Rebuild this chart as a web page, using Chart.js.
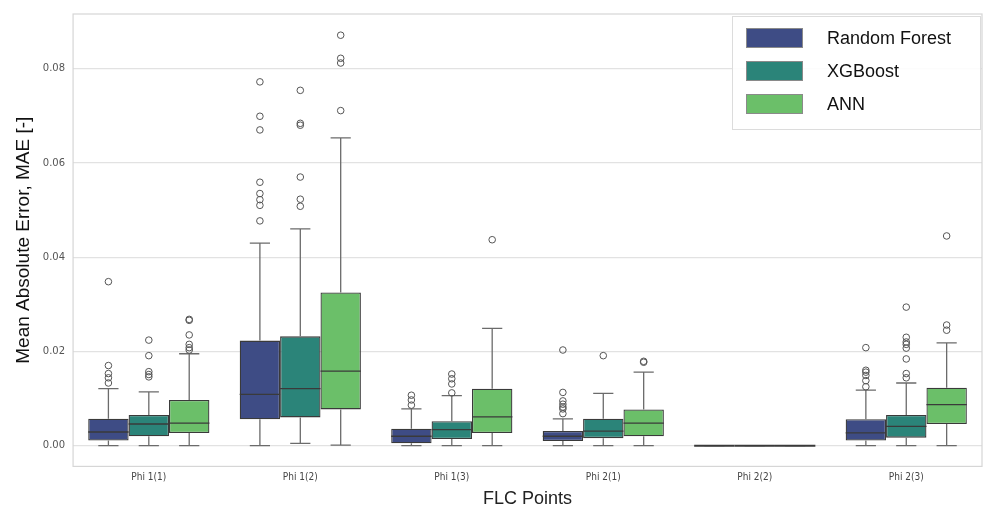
<!DOCTYPE html>
<html>
<head>
<meta charset="utf-8">
<script src="https://cdn.jsdelivr.net/npm/chart.js@4.4.1/dist/chart.umd.min.js"></script>
<style>
  html, body { margin: 0; padding: 0; background: #fff; overflow: hidden; }
  #wrap { width: 984px; height: 510px; }
</style>
</head>
<body>
<div id="wrap"><canvas id="maeChart"></canvas></div>
<script>
// FLC point categories and model names
const flcPoints = ['Phi 1(1)', 'Phi 1(2)', 'Phi 1(3)', 'Phi 2(1)', 'Phi 2(2)', 'Phi 2(3)'];
const models = ['Random Forest', 'XGBoost', 'ANN'];
const modelColors = ['#3e4c85', '#2b8479', '#6bbf69'];
const yTicks = [0, 0.02, 0.04, 0.06, 0.08];

// Box statistics per model, one entry per FLC point: [whiskerLow, q1, median, q3, whiskerHigh]
const rfStats = [
    [0.0000, 0.0011, 0.0029, 0.0057, 0.0121],
    [0.0000, 0.0056, 0.0109, 0.0223, 0.0430],
    [0.0000, 0.0005, 0.0020, 0.0036, 0.0078],
    [0.0000, 0.0010, 0.0020, 0.0031, 0.0057],
    [0.0000, 0.0000, 0.0000, 0.0000, 0.0000],
    [0.0000, 0.0011, 0.0027, 0.0056, 0.0118]
];
const xgbStats = [
    [0.0000, 0.0020, 0.0046, 0.0065, 0.0114],
    [0.0005, 0.0060, 0.0121, 0.0232, 0.0460],
    [0.0000, 0.0014, 0.0034, 0.0052, 0.0106],
    [0.0000, 0.0016, 0.0031, 0.0057, 0.0111],
    [0.0000, 0.0000, 0.0000, 0.0000, 0.0000],
    [0.0000, 0.0017, 0.0041, 0.0065, 0.0133]
];
const annStats = [
    [0.0000, 0.0027, 0.0048, 0.0097, 0.0195],
    [0.0001, 0.0077, 0.0158, 0.0325, 0.0653],
    [0.0000, 0.0027, 0.0061, 0.0121, 0.0249],
    [0.0000, 0.0020, 0.0048, 0.0077, 0.0156],
    [0.0000, 0.0000, 0.0000, 0.0000, 0.0000],
    [0.0000, 0.0046, 0.0087, 0.0123, 0.0218]
];

// Outliers per model, one list per FLC point
const rfOutliers = [
    [0.0348, 0.0170, 0.0153, 0.0144, 0.0133],
    [0.0772, 0.0699, 0.0670, 0.0559, 0.0535, 0.0522, 0.0510, 0.0477],
    [0.0107, 0.0097, 0.0086],
    [0.0203, 0.0113, 0.0095, 0.0088, 0.0082, 0.0078, 0.0068],
    [],
    [0.0208, 0.0160, 0.0156, 0.0149, 0.0138, 0.0125]
];
const xgbOutliers = [
    [0.0224, 0.0191, 0.0157, 0.0151, 0.0146],
    [0.0754, 0.0684, 0.0680, 0.0570, 0.0523, 0.0508],
    [0.0152, 0.0142, 0.0131, 0.0112],
    [0.0191],
    [],
    [0.0294, 0.0230, 0.0220, 0.0215, 0.0207, 0.0184, 0.0153, 0.0144]
];
const annOutliers = [
    [0.0268, 0.0266, 0.0235, 0.0215, 0.0208, 0.0203],
    [0.0871, 0.0822, 0.0812, 0.0711],
    [0.0437],
    [0.0179, 0.0177],
    [],
    [0.0445, 0.0256, 0.0245]
];

const allStats = [rfStats, xgbStats, annStats];
const allOutliers = [rfOutliers, xgbOutliers, annOutliers];

const edgeColor = '#3a3a3a';
const whiskerColor = '#6b6b6b';

/**
 * Draws whiskers, caps, medians and outlier circles on top of the floating bars
 */
const boxPlotPlugin = {
    id: 'boxPlot',
    afterDatasetsDraw(chart) {
        const ctx = chart.ctx;
        const y = chart.scales.y;
        chart.data.datasets.forEach((ds, di) => {
            const meta = chart.getDatasetMeta(di);
            meta.data.forEach((bar, i) => {
                const s = ds.stats[i];
                const half = bar.width / 2;
                const cap = bar.width / 4;
                ctx.save();
                ctx.strokeStyle = whiskerColor;
                ctx.lineWidth = 1.3;
                ctx.beginPath();
                ctx.moveTo(bar.x, y.getPixelForValue(s[3]));
                ctx.lineTo(bar.x, y.getPixelForValue(s[4]));
                ctx.moveTo(bar.x - cap, y.getPixelForValue(s[4]));
                ctx.lineTo(bar.x + cap, y.getPixelForValue(s[4]));
                ctx.moveTo(bar.x, y.getPixelForValue(s[1]));
                ctx.lineTo(bar.x, y.getPixelForValue(s[0]));
                ctx.moveTo(bar.x - cap, y.getPixelForValue(s[0]));
                ctx.lineTo(bar.x + cap, y.getPixelForValue(s[0]));
                ctx.stroke();

                // median
                ctx.strokeStyle = edgeColor;
                ctx.lineWidth = s[3] === s[1] ? 2 : 1.3;
                ctx.beginPath();
                ctx.moveTo(bar.x - half, y.getPixelForValue(s[2]));
                ctx.lineTo(bar.x + half, y.getPixelForValue(s[2]));
                ctx.stroke();

                // outliers
                ctx.strokeStyle = '#555';
                ctx.lineWidth = 1;
                ds.outliers[i].forEach(v => {
                    ctx.beginPath();
                    ctx.arc(bar.x, y.getPixelForValue(v), 3.3, 0, Math.PI * 2);
                    ctx.stroke();
                });
                ctx.restore();
            });
        });
    }
};

/**
 * Plot frame and the legend box in the upper right
 */
const framePlugin = {
    id: 'frameLegend',
    afterDraw(chart) {
        const ctx = chart.ctx;
        const a = chart.chartArea;
        ctx.save();
        ctx.strokeStyle = '#d6d6d6';
        ctx.lineWidth = 1.2;
        ctx.strokeRect(a.left, a.top, a.right - a.left, a.bottom - a.top);

        const lx = a.right - 250, ly = a.top + 2;
        ctx.fillStyle = 'rgba(255,255,255,0.9)';
        ctx.fillRect(lx, ly, 248, 113);
        ctx.strokeStyle = '#dcdcdc';
        ctx.lineWidth = 1;
        ctx.strokeRect(lx + 0.5, ly + 0.5, 248, 113);

        ctx.font = '18px "Liberation Sans", Arial, sans-serif';
        ctx.textBaseline = 'middle';
        chart.data.datasets.forEach((ds, i) => {
            const cy = ly + 22 + i * 33;
            ctx.fillStyle = ds.backgroundColor;
            ctx.fillRect(lx + 14, cy - 10, 57, 20);
            ctx.strokeStyle = '#8a8a8a';
            ctx.strokeRect(lx + 14.5, cy - 9.5, 56, 19);
            ctx.fillStyle = '#111';
            ctx.fillText(ds.label, lx + 95, cy + 1);
        });
        ctx.restore();
    }
};

const datasets = models.map((name, m) => ({
    label: name,
    data: allStats[m].map(s => [s[1], s[3]]),
    stats: allStats[m],
    outliers: allOutliers[m],
    backgroundColor: modelColors[m],
    borderColor: edgeColor,
    borderWidth: 1.3,
    borderSkipped: false
}));

new Chart(document.getElementById('maeChart').getContext('2d'), {
    type: 'bar',
    data: { labels: flcPoints, datasets: datasets },
    options: {
        responsive: true,
        maintainAspectRatio: false,
        animation: false,
        layout: { padding: { top: 13, right: 2, left: 12, bottom: 0 } },
        datasets: { bar: { categoryPercentage: 0.8, barPercentage: 1.0 } },
        plugins: {
            legend: { display: false },
            tooltip: { enabled: false }
        },
        scales: {
            x: {
                grid: { display: false, drawTicks: false },
                border: { display: false },
                ticks: {
                    color: '#444',
                    font: { family: '"DejaVu Sans Condensed", "DejaVu Sans", sans-serif', size: 10 },
                    padding: 5
                },
                title: {
                    display: true,
                    text: 'FLC Points',
                    color: '#222',
                    font: { family: '"Liberation Sans", Arial, sans-serif', size: 18 },
                    padding: { top: 0, bottom: 0 }
                }
            },
            y: {
                min: -0.0044,
                max: 0.0916,
                afterBuildTicks: axis => { axis.ticks = yTicks.map(v => ({ value: v })); },
                grid: { color: '#e2e2e2', lineWidth: 1.2, drawTicks: false },
                border: { display: false },
                ticks: {
                    color: '#555',
                    font: { family: '"DejaVu Sans", sans-serif', size: 10 },
                    padding: 8,
                    callback: v => v.toFixed(2)
                },
                title: {
                    display: true,
                    text: 'Mean Absolute Error, MAE [-]',
                    color: '#111',
                    font: { family: '"Liberation Sans", Arial, sans-serif', size: 19 },
                    padding: { top: 0, bottom: 0 }
                }
            }
        }
    },
    plugins: [boxPlotPlugin, framePlugin]
});
</script>
</body>
</html>
